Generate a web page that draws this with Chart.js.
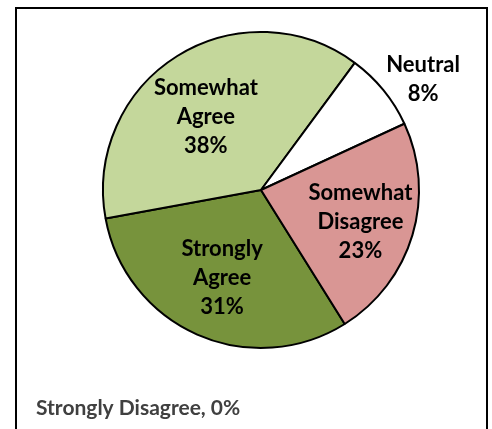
<!DOCTYPE html>
<html>
<head>
<meta charset="utf-8">
<script src="https://cdn.jsdelivr.net/npm/chart.js@4"></script>
<style>
  html, body { margin: 0; padding: 0; background: #fff; }
  body { width: 492px; height: 429px; position: relative; overflow: hidden; }
  #frame { position: absolute; left: 15px; top: 7px; width: 469px; height: 440px; border: 2px solid #000; box-sizing: content-box; }
  #c { position: absolute; left: 0; top: 0; }
</style>
</head>
<body>
<div id="frame"></div>
<canvas id="c" width="492" height="429"></canvas>
<script>
const categories = ["Strongly Agree", "Somewhat Agree", "Neutral", "Somewhat Disagree", "Strongly Disagree"];
const percentValues = [31, 38, 8, 23, 0];
const sliceColors = ["#77933C", "#C4D79B", "#FFFFFF", "#D99694", "#FFFFFF"];
const labelLines = [["Strongly", "Agree"], ["Somewhat", "Agree"], ["Neutral"], ["Somewhat", "Disagree"], ["Strongly Disagree"]];
const labelRadiusFrac = [0.61, 0.58, 1.24, 0.66, null];
const labelAngleShift = [0, -5, 5, 1, 0];

const FONT = "Lato, 'Open Sans', sans-serif";

const labelPlugin = {
  id: 'sliceLabels',
  afterDatasetsDraw(chart) {
    const ctx = chart.ctx;
    const meta = chart.getDatasetMeta(0);
    ctx.save();
    meta.data.forEach((arc, i) => {
      const v = percentValues[i];
      if (labelRadiusFrac[i] == null) {
        ctx.font = "bold 21px " + FONT;
        ctx.fillStyle = "#404040";
        ctx.textAlign = "left";
        ctx.textBaseline = "middle";
        ctx.fillText(labelLines[i].join(" ") + ", " + v + "%", 36, 408);
        return;
      }
      const p = arc.getProps(['x', 'y', 'startAngle', 'endAngle', 'outerRadius'], true);
      const mid = (p.startAngle + p.endAngle) / 2 + labelAngleShift[i] * Math.PI / 180;
      const r = p.outerRadius * labelRadiusFrac[i];
      const cx = p.x + Math.cos(mid) * r;
      const cy = p.y + Math.sin(mid) * r;
      const lines = labelLines[i].concat([v + "%"]);
      const lh = 29;
      ctx.font = "bold 22px " + FONT;
      ctx.fillStyle = "#000";
      ctx.textAlign = "center";
      ctx.textBaseline = "middle";
      lines.forEach((t, k) => {
        ctx.fillText(t, cx, cy + (k - (lines.length - 1) / 2) * lh);
      });
    });
    ctx.restore();
  }
};

new Chart(document.getElementById('c'), {
  type: 'pie',
  data: {
    labels: categories,
    datasets: [{
      data: percentValues,
      backgroundColor: sliceColors,
      borderColor: "#000",
      borderWidth: 2,
      hoverOffset: 0
    }]
  },
  options: {
    responsive: false,
    animation: false,
    devicePixelRatio: 1,
    rotation: 148,
    layout: { padding: { left: 102, right: 72, top: 31, bottom: 80 } },
    plugins: {
      legend: { display: false },
      tooltip: { enabled: false }
    }
  },
  plugins: [labelPlugin]
});
</script>
</body>
</html>
